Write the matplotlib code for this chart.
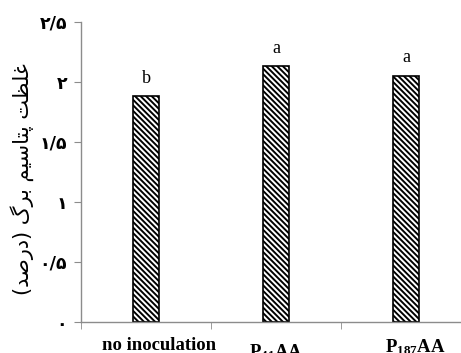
import matplotlib
matplotlib.use("Agg")
import matplotlib.pyplot as plt
import numpy as np

plt.rcParams['hatch.linewidth'] = 1.4
plt.rcParams['mathtext.fontset'] = 'custom'
plt.rcParams['mathtext.rm'] = 'Liberation Serif:bold'
plt.rcParams['mathtext.bf'] = 'Liberation Serif:bold'
plt.rcParams['mathtext.it'] = 'Liberation Serif:bold'

# Data
categories = ["no inoculation", r"$\mathbf{P_{41}AA}$", r"$\mathbf{P_{187}AA}$"]
potassium = [1.88, 2.13, 2.05]
letters = ["b", "a", "a"]
ytick_values = [0, 0.5, 1, 1.5, 2, 2.5]
ytick_labels = ["\u06f0", "\u06f0/\u06f5", "\u06f1", "\u06f1/\u06f5", "\u06f2", "\u06f2/\u06f5"]

# Persian y-axis title "غلظت پتاسیم برگ (درصد)" in shaped presentation forms, visual order
ylabel = ("(\ufeaa\ufebb\ufead\ufea9) "
          "\ufb92\ufeae\ufe91 "
          "\ufee2\ufbff\ufeb3\ufe8e\ufe98\ufb58 "
          "\ufe96\ufec8\ufee0\ufecf")

fig = plt.figure(figsize=(4.61, 3.53), dpi=100)
ax = fig.add_axes([81/461, 31/353, 390/461, 300/353])

x = np.arange(len(categories))
bars = ax.bar(x, potassium, width=0.2, color="white", edgecolor="black",
              linewidth=1.2, hatch="\\\\\\\\\\\\")

for xi, v, lab in zip(x, potassium, letters):
    ax.annotate(lab, (xi, v), xytext=(0, 7), textcoords="offset points",
                ha="center", va="bottom", fontsize=13, family="Liberation Serif")

ax.set_xlim(-0.5, 2.5)
ax.set_ylim(0, 2.5)

ax.set_yticks(ytick_values)
ax.set_yticklabels(ytick_labels, fontsize=12.5, fontweight="bold", family="DejaVu Sans")

# category labels placed under each bar with individual offsets (points)
ax.set_xticks(x)
ax.set_xticklabels([])
label_offsets = [(9.5, -11), (0, -14.5), (6.5, -11)]
for xi, name, (dx, dy) in zip(x, categories, label_offsets):
    ax.annotate(name, (xi, 0), xycoords=("data", "axes fraction"),
                xytext=(dx, dy), textcoords="offset points",
                ha="center", va="top", fontsize=13.5, fontweight="bold",
                family="Liberation Serif", annotation_clip=False)
ax.set_xticks([-0.5, 0.5, 1.5, 2.5], minor=True)

gray = "#8c8c8c"
for s in ["top", "right"]:
    ax.spines[s].set_visible(False)
for s in ["left", "bottom"]:
    ax.spines[s].set_color(gray)
    ax.spines[s].set_linewidth(1.0)

ax.tick_params(axis="y", direction="out", length=5, color=gray, pad=5)
ax.tick_params(axis="x", which="major", length=0)
ax.tick_params(axis="x", which="minor", direction="out", length=5, color=gray)

fig.text(22/461, (353-179)/353, ylabel, rotation=90, ha="center", va="center",
         fontsize=15, family="DejaVu Sans")

fig.savefig("out.png", dpi=100)
